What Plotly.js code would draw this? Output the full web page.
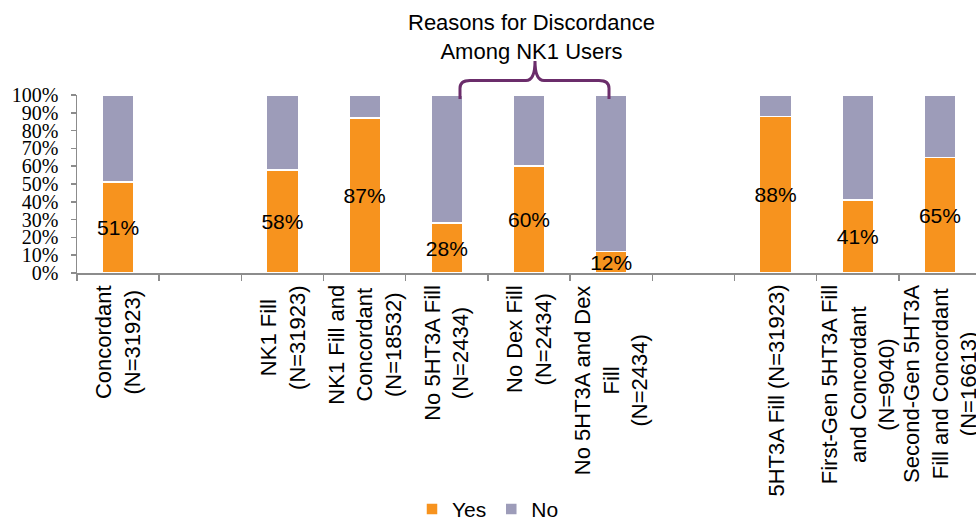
<!DOCTYPE html>
<html>
<head>
<meta charset="utf-8">
<script src="https://cdn.plot.ly/plotly-3.0.1.min.js"></script>
<style>
html,body{margin:0;padding:0;overflow:hidden;background:#fff;}
#chart{width:981px;height:530px;}
</style>
</head>
<body>
<div id="chart"></div>
<script>
// ---- data ----
var categories = [
  "Concordant<br>(N=31923)",
  " ",
  "NK1 Fill<br>(N=31923)",
  "NK1 Fill and<br>Concordant<br>(N=18532)",
  "No 5HT3A Fill<br>(N=2434)",
  "No Dex Fill<br>(N=2434)",
  "No 5HT3A and Dex<br>Fill<br>(N=2434)",
  "  ",
  "5HT3A Fill (N=31923)",
  "First-Gen 5HT3A Fill<br>and Concordant<br>(N=9040)",
  "Second-Gen 5HT3A<br>Fill and Concordant<br>(N=16613)"
];
var yesValues = [51, null, 58, 87, 28, 60, 12, null, 88, 41, 65];
var noValues  = [49, null, 42, 13, 72, 40, 88, null, 12, 59, 35];
var yesLabels = ["51%", "", "58%", "87%", "28%", "60%", "12%", "", "88%", "41%", "65%"];
var yTickVals = [0, 10, 20, 30, 40, 50, 60, 70, 80, 90, 100];
var yTickText = ["0%", "10%", "20%", "30%", "40%", "50%", "60%", "70%", "80%", "90%", "100%"];
var titleText = "Reasons for Discordance<br>Among NK1 Users";

// ---- layout geometry (pixels) ----
var W = 981, H = 530, ML = 77, MR = 0, MT = 95, MB = 252;
var PW = W - ML - MR, PH = H - MT - MB;
function px(x){ return (x - ML) / PW; }
function py(y){ return (MT + PH - y) / PH; }

var orange = "#F7931E";
var grayPurple = "#9D9CB9";
var sans = "Liberation Sans, Arial, sans-serif";

var traces = [
  {
    type: "bar", name: "Yes", x: categories, y: yesValues,
    marker: {color: orange, line: {color: "#ffffff", width: 1.5}},
    text: yesLabels, textposition: "inside", insidetextanchor: "middle",
    constraintext: "none", textangle: 0,
    textfont: {family: sans, size: 21, color: "#000000"},
    hoverinfo: "skip"
  },
  {
    type: "bar", name: "No", x: categories, y: noValues,
    marker: {color: grayPurple, line: {color: "#ffffff", width: 1.5}},
    hoverinfo: "skip"
  }
];

var annotations = categories.map(function(c){
  return {
    xref: "x", yref: "paper", x: c, y: 0, yshift: -10,
    text: c.trim(), showarrow: false, textangle: -90,
    xanchor: "center", yanchor: "top", align: "center",
    font: {family: sans, size: 22, color: "#000000"}
  };
});
annotations.push({
  xref: "paper", yref: "paper", x: px(531), y: py(35),
  text: titleText, showarrow: false, xanchor: "center", yanchor: "middle", align: "center",
  font: {family: sans, size: 22, color: "#000000"}
});

function P(x, y){ return px(x).toFixed(5) + "," + py(y).toFixed(5); }
var bracketPath =
  "M" + P(460, 99) +
  " L" + P(460, 88) +
  " Q" + P(460, 80) + " " + P(470, 80) +
  " L" + P(526, 80) +
  " Q" + P(535, 80) + " " + P(535, 60) +
  " Q" + P(535, 80) + " " + P(544, 80) +
  " L" + P(599, 80) +
  " Q" + P(609, 80) + " " + P(609, 88) +
  " L" + P(609, 99);

var layout = {
  width: W, height: H,
  margin: {l: ML, r: MR, t: MT, b: MB, pad: 0},
  paper_bgcolor: "#ffffff", plot_bgcolor: "#ffffff",
  barmode: "stack", bargap: 0.615,
  showlegend: true,
  legend: {
    orientation: "h", traceorder: "normal",
    x: px(488), xanchor: "center", y: py(521), yanchor: "middle",
    font: {family: sans, size: 21, color: "#000000"},
    itemwidth: 30, itemclick: false, itemdoubleclick: false
  },
  xaxis: {
    type: "category", range: [-0.5, 10.5],
    categoryorder: "array", categoryarray: categories,
    showticklabels: false, showgrid: false, zeroline: false,
    showline: true, linecolor: "#8C8C8C", linewidth: 1.5,
    ticks: "outside", tickson: "boundaries", ticklen: 6, tickcolor: "#8C8C8C", tickwidth: 1.5,
    fixedrange: true
  },
  yaxis: {
    range: [0, 100], tickvals: yTickVals, ticktext: yTickText,
    showgrid: false, zeroline: false,
    showline: true, linecolor: "#8C8C8C", linewidth: 1.5,
    ticks: "outside", ticklen: 5, tickcolor: "#8C8C8C", tickwidth: 1.5,
    ticklabelstandoff: 8,
    tickfont: {family: "Liberation Serif, Times New Roman, serif", size: 20, color: "#000000"},
    fixedrange: true
  },
  annotations: annotations,
  shapes: [{
    type: "path", xref: "paper", yref: "paper", path: bracketPath,
    line: {color: "#6B2D6B", width: 3}, fillcolor: "rgba(0,0,0,0)"
  }]
};

Plotly.newPlot("chart", traces, layout, {displayModeBar: false, staticPlot: true});
</script>
</body>
</html>
